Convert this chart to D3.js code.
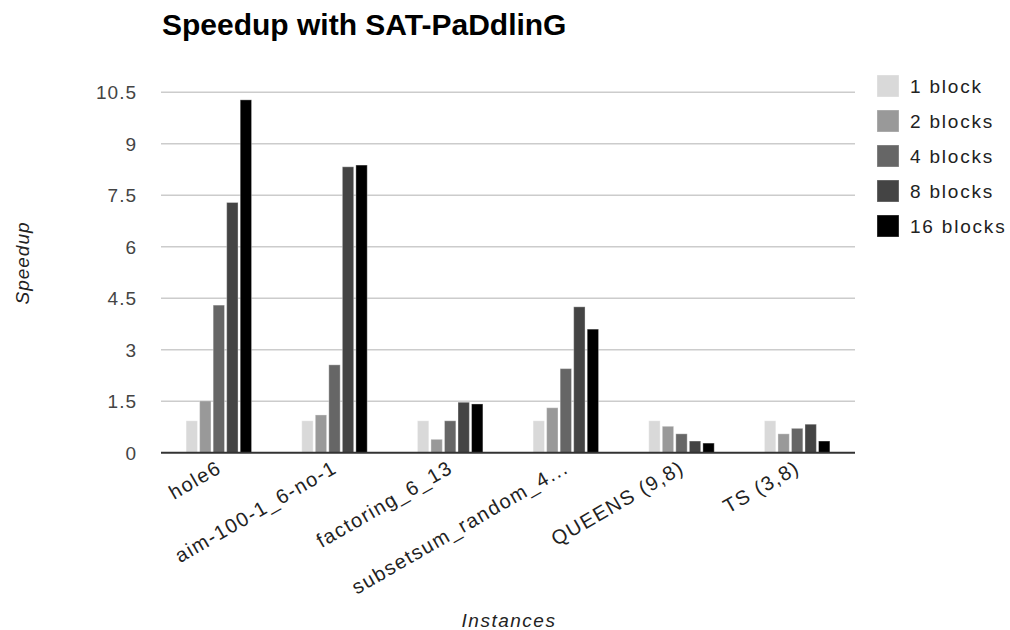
<!DOCTYPE html>
<html><head><meta charset="utf-8">
<script src="https://cdn.jsdelivr.net/npm/d3@7"></script>
<style>
body{margin:0;background:#fff;}
text{font-family:"Liberation Sans",Arial,sans-serif;}
</style></head>
<body><svg id="c" width="1010" height="630"></svg>
<script>
const categories = ["hole6","aim-100-1_6-no-1","factoring_6_13","subsetsum_random_4...","QUEENS (9,8)","TS (3,8)"];
const seriesNames = ["1 block","2 blocks","4 blocks","8 blocks","16 blocks"];
const s1 = [0.93,0.93,0.93,0.93,0.93,0.93];
const s2 = [1.51,1.10,0.39,1.31,0.77,0.55];
const s4 = [4.30,2.56,0.93,2.45,0.55,0.71];
const s8 = [7.29,8.33,1.47,4.25,0.34,0.83];
const s16 = [10.28,8.38,1.42,3.60,0.28,0.34];
const yTicks = [0,1.5,3,4.5,6,7.5,9,10.5];
const colors = ["#d9d9d9","#999999","#666666","#444444","#000000"];

const series = [s1,s2,s4,s8,s16];
const svg = d3.select("#c");
const L=161,R=855,T=92.3,B=452.7;
const x = d3.scaleBand().domain(categories).range([L,R]).paddingInner(0.434).paddingOuter(0.217);
const xs = d3.scaleBand().domain(seriesNames).range([0,x.bandwidth()]).paddingInner(0.16).paddingOuter(0);
const y = d3.scaleLinear().domain([0,10.5]).range([B,T]);

// gridlines
svg.append("g").selectAll("line").data(yTicks.filter(d=>d>0)).join("line")
  .attr("x1",L).attr("x2",R).attr("y1",d=>y(d)).attr("y2",d=>y(d))
  .attr("stroke","#cccccc").attr("stroke-width",1.5);

// y axis labels
const ya = d3.axisLeft(y).tickValues(yTicks).tickSize(0).tickPadding(24).tickFormat(d=>String(d));
const yg = svg.append("g").attr("transform",`translate(${L},0)`).call(ya);
yg.select(".domain").remove();
yg.selectAll("text").attr("font-size",19).attr("fill","#444").attr("letter-spacing","1px").attr("dy","0.35em");

// bars
const g = svg.append("g");
categories.forEach((c,i)=>{
  series.forEach((s,j)=>{
    g.append("rect").attr("x",x(c)+xs(seriesNames[j])).attr("width",xs.bandwidth())
      .attr("y",y(s[i])).attr("height",B-y(s[i]))
      .attr("fill",colors[j]).attr("stroke","#ffffff").attr("stroke-opacity",0.35).attr("stroke-width",1);
  });
});

// baseline
svg.append("line").attr("x1",L).attr("x2",R).attr("y1",B).attr("y2",B).attr("stroke","#333").attr("stroke-width",2);

// x labels
const xa = d3.axisBottom(x).tickSize(0).tickPadding(0);
const xg = svg.append("g").attr("transform",`translate(0,${B})`).call(xa);
xg.select(".domain").remove();
xg.selectAll("text").attr("font-size",20).attr("fill","#222").attr("letter-spacing","1.5px")
  .attr("text-anchor","end").attr("dy",0).attr("y",0)
  .attr("transform","translate(4,19) rotate(-30)");

// title
svg.append("text").attr("x",162).attr("y",35).attr("font-size",30).attr("font-weight","bold").attr("fill","#000").text("Speedup with SAT-PaDdlinG");

// axis titles
svg.append("text").attr("x",509).attr("y",627).attr("text-anchor","middle").attr("font-size",19).attr("font-style","italic").attr("fill","#222").attr("letter-spacing","1.5px").text("Instances");
svg.append("text").attr("transform","translate(29,263) rotate(-90)").attr("text-anchor","middle").attr("font-size",19).attr("font-style","italic").attr("fill","#222").attr("letter-spacing","1px").text("Speedup");

// legend
const lg = svg.append("g");
seriesNames.forEach((n,j)=>{
  lg.append("rect").attr("x",877).attr("y",75+j*35).attr("width",22).attr("height",22).attr("fill",colors[j]).attr("stroke","#fff").attr("stroke-opacity",0.35);
  lg.append("text").attr("x",910).attr("y",75+j*35+18).attr("font-size",19).attr("fill","#222").attr("letter-spacing","1.8px").text(n);
});
</script></body></html>
